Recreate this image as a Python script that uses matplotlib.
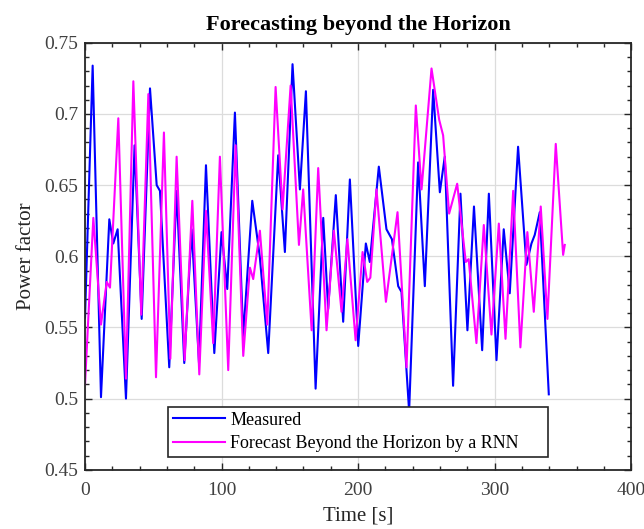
import matplotlib
matplotlib.use("Agg")
import matplotlib.pyplot as plt
from matplotlib.ticker import MultipleLocator

plt.rcParams["font.family"] = ["Liberation Serif", "DejaVu Serif"]

# measured power factor (peaks, troughs, shoulders)
measured_t = [0, 5.6, 11.7, 17.8, 20.7, 23.9, 30.0, 36.3, 41.5, 47.6,
              52.5, 54.9, 61.7, 67.1, 72.7, 78.1, 83.5, 88.6, 94.7, 100.0,
              104.2, 109.8, 115.9, 122.5, 128.0, 134.2, 141.5, 146.4, 152.0, 157.4,
              161.8, 168.9, 174.5, 178.1, 183.7, 189.1, 194.0, 200.1, 205.7, 208.6,
              215.2, 220.8, 224.8, 229.4, 231.8, 237.4, 244.0, 248.9, 255.0, 259.9,
              263.5, 269.6, 275.0, 280.1, 284.9, 290.9, 295.8, 301.4, 306.7, 311.1,
              317.2, 323.3, 327.0, 329.4, 333.1, 339.7]
measured_pf = [0.557, 0.734, 0.501, 0.626, 0.609, 0.619, 0.500, 0.678, 0.556, 0.718,
               0.650, 0.646, 0.522, 0.646, 0.525, 0.619, 0.525, 0.664, 0.532, 0.617,
               0.577, 0.701, 0.544, 0.639, 0.600, 0.532, 0.671, 0.603, 0.735, 0.647,
               0.716, 0.507, 0.627, 0.563, 0.643, 0.554, 0.654, 0.537, 0.609, 0.596,
               0.663, 0.619, 0.612, 0.579, 0.575, 0.491, 0.666, 0.579, 0.717, 0.645,
               0.670, 0.509, 0.644, 0.548, 0.635, 0.534, 0.644, 0.527, 0.619, 0.574,
               0.677, 0.594, 0.609, 0.615, 0.631, 0.503]

# RNN forecast beyond the horizon
forecast_t = [0, 6.1, 11.7, 15.9, 18.3, 24.4, 30.0, 35.4, 41.2, 46.4,
              52.0, 57.8, 62.5, 67.1, 73.0, 78.6, 83.7, 88.6, 93.9, 98.8,
              104.9, 110.3, 115.9, 120.8, 123.2, 128.1, 133.5, 139.6, 144.7, 150.6,
              156.7, 159.8, 166.0, 170.8, 176.9, 182.3, 187.9, 192.2, 198.2, 203.3,
              206.7, 209.0, 213.5, 220.4, 228.9, 235.5, 242.3, 246.5, 253.8, 259.4,
              262.3, 266.7, 272.6, 278.9, 281.0, 286.7, 292.1, 297.7, 303.1, 308.0,
              313.6, 318.9, 324.0, 328.7, 333.8, 338.7, 344.8, 350.2, 351.4]
forecast_pf = [0.510, 0.627, 0.552, 0.582, 0.578, 0.697, 0.514, 0.723, 0.559, 0.714,
               0.515, 0.687, 0.528, 0.670, 0.527, 0.639, 0.517, 0.632, 0.539, 0.670,
               0.520, 0.678, 0.530, 0.592, 0.584, 0.618, 0.552, 0.719, 0.633, 0.720,
               0.608, 0.647, 0.548, 0.662, 0.548, 0.618, 0.561, 0.612, 0.541, 0.603,
               0.582, 0.585, 0.647, 0.568, 0.631, 0.522, 0.706, 0.647, 0.732, 0.696,
               0.685, 0.630, 0.651, 0.596, 0.598, 0.539, 0.622, 0.545, 0.623, 0.542,
               0.646, 0.536, 0.617, 0.561, 0.635, 0.556, 0.679, 0.601, 0.608]

fig = plt.figure(figsize=(6.44, 5.29), dpi=100)
ax = fig.add_axes([0.132, 0.112, 0.848, 0.807])

ax.plot(measured_t, measured_pf, color="#0000ff", lw=1.5, label="Measured",
        solid_joinstyle="round")
ax.plot(forecast_t, forecast_pf, color="#ff00ff", lw=1.5,
        label="Forecast Beyond the Horizon by a RNN", solid_joinstyle="round")

ax.set_xlim(0, 400)
ax.set_ylim(0.45, 0.75)
ax.xaxis.set_major_locator(MultipleLocator(100))
ax.xaxis.set_minor_locator(MultipleLocator(20))
ax.yaxis.set_major_locator(MultipleLocator(0.05))
ax.yaxis.set_minor_locator(MultipleLocator(0.01))
ax.yaxis.set_major_formatter(plt.FuncFormatter(lambda v, p: f"{v:g}"))

ax.tick_params(which="both", direction="in", top=True, right=True,
               colors="#262626", labelcolor="#404040", labelsize=14)
ax.tick_params(which="major", length=5, width=1)
ax.tick_params(which="minor", length=3, width=1)
ax.tick_params(axis="x", which="major", pad=9)
ax.tick_params(axis="y", which="major", pad=5)
for s in ax.spines.values():
    s.set_color("#262626")
    s.set_linewidth(1.3)

ax.grid(True, which="major", color="#dcdcdc", lw=0.9)
ax.set_axisbelow(True)

ax.set_xlabel("Time [s]", fontsize=15, color="#262626", labelpad=5)
ax.set_ylabel("Power factor", fontsize=15, color="#262626", labelpad=6)
ax.set_title("Forecasting beyond the Horizon", fontsize=16, fontweight="bold",
             pad=9)

leg = ax.legend(loc="lower left", bbox_to_anchor=(0.152, 0.03, 0.696, 0.1),
                mode="expand", borderaxespad=0, fontsize=13,
                fancybox=False, framealpha=1, edgecolor="#262626",
                handlelength=2.9, borderpad=0.25, labelspacing=0.38,
                handletextpad=0.3)
leg.get_frame().set_linewidth(1.2)

fig.savefig("out.png", dpi=100)
